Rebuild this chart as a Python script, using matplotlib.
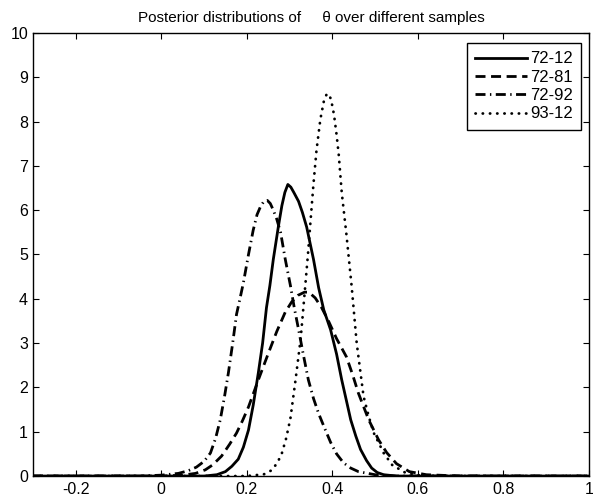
import numpy as np
import matplotlib
matplotlib.use('Agg')
from matplotlib import pyplot as plt

plt.rcParams['font.family'] = ['Liberation Sans', 'DejaVu Sans']

# values
x_7212 = [-0.3, 0.10, 0.13, 0.15, 0.165, 0.18, 0.192, 0.204, 0.215, 0.227, 0.237, 0.246,
          0.254, 0.262, 0.274, 0.282, 0.289, 0.296, 0.303, 0.31, 0.321, 0.33, 0.34, 0.356,
          0.368, 0.38, 0.396, 0.41, 0.422, 0.433, 0.443, 0.455, 0.466, 0.48, 0.492, 0.505,
          0.52, 0.55, 1.0]
y_7212 = [0.0, 0.0, 0.03, 0.1, 0.22, 0.38, 0.65, 1.04, 1.6, 2.33, 3.0, 3.8,
          4.3, 4.89, 5.64, 6.1, 6.4, 6.58, 6.52, 6.4, 6.2, 5.95, 5.62, 4.89,
          4.25, 3.75, 3.3, 2.75, 2.17, 1.7, 1.27, 0.9, 0.6, 0.35, 0.18, 0.08,
          0.03, 0.0, 0.0]

x_7281 = [-0.3, 0.0, 0.05, 0.08, 0.103, 0.12, 0.141, 0.16, 0.176, 0.19, 0.204, 0.227,
          0.25, 0.27, 0.29, 0.305, 0.32, 0.335, 0.345, 0.36, 0.375, 0.391, 0.41, 0.433,
          0.447, 0.461, 0.485, 0.508, 0.527, 0.55, 0.58, 0.62, 0.7, 1.0]
y_7281 = [0.0, 0.0, 0.02, 0.06, 0.14, 0.25, 0.45, 0.72, 0.97, 1.25, 1.56, 2.17,
          2.76, 3.26, 3.7, 3.93, 4.08, 4.15, 4.15, 4.02, 3.8, 3.5, 3.1, 2.69,
          2.3, 1.87, 1.27, 0.82, 0.53, 0.28, 0.1, 0.03, 0.0, 0.0]

x_7292 = [-0.3, -0.05, 0.0, 0.04, 0.063, 0.082, 0.1, 0.115, 0.127, 0.138, 0.148, 0.157,
          0.167, 0.176, 0.184, 0.192, 0.204, 0.215, 0.224, 0.232, 0.24, 0.248, 0.255,
          0.262, 0.27, 0.279, 0.29, 0.302, 0.311, 0.321, 0.332, 0.344, 0.356, 0.368,
          0.382, 0.396, 0.41, 0.426, 0.443, 0.461, 0.5, 0.55, 1.0]
y_7292 = [0.0, 0.0, 0.02, 0.06, 0.12, 0.2, 0.33, 0.52, 0.85, 1.27, 1.8, 2.33,
          3.0, 3.65, 4.0, 4.36, 5.0, 5.55, 5.9, 6.08, 6.2, 6.22, 6.15,
          6.0, 5.8, 5.5, 4.89, 4.3, 3.8, 3.31, 2.75, 2.17, 1.75, 1.41,
          1.08, 0.76, 0.5, 0.3, 0.18, 0.1, 0.03, 0.0, 0.0]

x_9312 = [-0.3, 0.2, 0.24, 0.258, 0.27, 0.281, 0.292, 0.302, 0.314, 0.326, 0.335, 0.343,
          0.349, 0.356, 0.363, 0.372, 0.38, 0.386, 0.391, 0.397, 0.404, 0.41, 0.415,
          0.422, 0.433, 0.445, 0.457, 0.465, 0.473, 0.485, 0.497, 0.51, 0.52, 0.54,
          0.57, 0.6, 0.65, 1.0]
y_9312 = [0.0, 0.0, 0.04, 0.13, 0.28, 0.48, 0.85, 1.3, 2.17, 3.1, 4.1, 5.0,
          5.75, 6.6, 7.35, 8.05, 8.45, 8.6, 8.63, 8.5, 8.15, 7.7, 7.25,
          6.4, 5.45, 4.3, 3.0, 2.4, 1.8, 1.35, 0.97, 0.72, 0.52, 0.25,
          0.08, 0.02, 0.0, 0.0]

labels = ['72-12', '72-81', '72-92', '93-12']

fig = plt.figure(figsize=(5.93, 4.99), dpi=100)
ax = fig.add_axes([0.0556, 0.046, 0.9375, 0.888])

lw = 2.0
ax.plot(x_7212, y_7212, color='black', lw=lw, linestyle='-', label=labels[0])
ax.plot(x_7281, y_7281, color='black', lw=lw, linestyle=(0, (3.6, 2.0)), label=labels[1])
ax.plot(x_7292, y_7292, color='black', lw=lw, linestyle=(0, (3.6, 1.6, 0.5, 1.6)), label=labels[2])
ax.plot(x_9312, y_9312, color='black', lw=lw, linestyle=(0, (0.1, 2.5)),
        dash_capstyle='round', label=labels[3])

ax.set_xlim(-0.3, 1.0)
ax.set_ylim(0, 10)
ax.set_xticks([-0.2, 0, 0.2, 0.4, 0.6, 0.8, 1.0])
ax.set_xticklabels(['-0.2', '0', '0.2', '0.4', '0.6', '0.8', '1'])
ax.set_yticks(range(0, 11))
ax.tick_params(direction='in', top=True, right=True, labelsize=11.5, length=4, width=0.8)
ax.tick_params(axis='x', pad=4.5)
ax.tick_params(axis='y', pad=3.5)
for s in ax.spines.values():
    s.set_linewidth(1.0)

ax.set_title('Posterior distributions of     \u03b8 over different samples', fontsize=11, pad=8)

leg = ax.legend(loc='upper right', bbox_to_anchor=(0.986, 0.977), borderaxespad=0,
                fancybox=False, framealpha=1, edgecolor='black', fontsize=12,
                handlelength=3.1, handletextpad=0.2, labelspacing=0.2, borderpad=0.5)
leg.get_frame().set_linewidth(1.0)

fig.savefig('out.png', dpi=100)
